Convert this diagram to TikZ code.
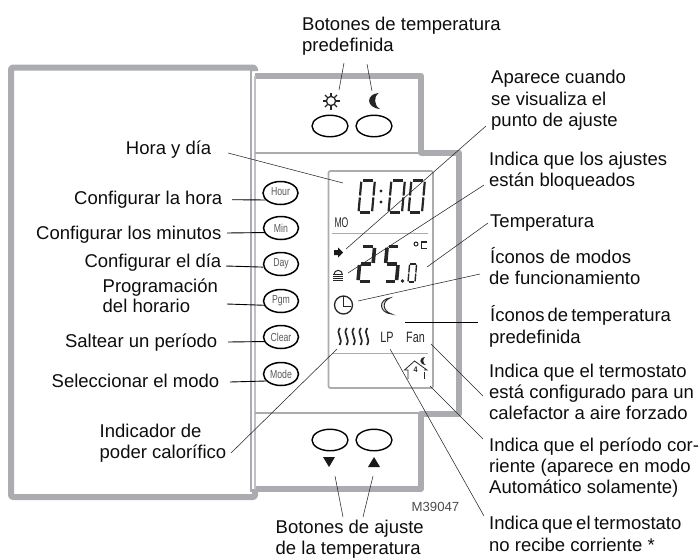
\documentclass[tikz,border=0pt]{standalone}
\usepackage{fontspec}
\setmainfont{Liberation Sans}
\usetikzlibrary{shapes.geometric,calc}
\definecolor{framegray}{RGB}{170,172,176}
\tikzset{
  lab/.style={inner sep=0pt,anchor=base west,font=\fontsize{18.5}{21}\selectfont,text=black!95},
  labr/.style={lab,anchor=base east},
  lead/.style={draw=black!85,line width=.55pt},
  leadk/.style={draw=black,line width=.9pt},
  frame/.style={draw=framegray,line width=6pt,line join=round},
  thin frame/.style={draw=framegray,line width=2pt},
  lcdframe/.style={draw=framegray,line width=1.8pt,rounded corners=2pt},
  keyb/.style={ellipse,draw=black,line width=1.5pt,fill=white,minimum width=35pt,minimum height=23pt,inner sep=0pt},
  keyn/.style={ellipse,draw=black,line width=1.4pt,fill=white,minimum width=36pt,minimum height=21.5pt,inner sep=0pt},
  keyt/.style={inner sep=0pt,text=black!65,font=\fontsize{11.6}{12}\selectfont,xscale=.75},
  lcdt/.style={inner sep=0pt,text=black!85,font=\fontsize{14}{14}\selectfont},
  lcdw/.style={inner sep=0pt,text=black!85,font=\fontsize{15}{15}\selectfont,xscale=.72},
  tri/.style={fill=black!90,draw=none}
}
% seven-segment digit: x, y(bottom), w, h, line width, segments
\newcommand\lcdseg[6]{%
  \begin{scope}[shift={(#1,#2)},xslant=.09,black!85,line width=#5]
  \foreach \s in {#6}{%
    \ifnum\s=1 \draw (.12*#3,-#4) -- (.88*#3,-#4);\fi
    \ifnum\s=2 \draw (0,-#4+.04*#4) -- (0,-.53*#4);\fi
    \ifnum\s=3 \draw (#3,-#4+.04*#4) -- (#3,-.53*#4);\fi
    \ifnum\s=4 \draw (.12*#3,-.5*#4) -- (.88*#3,-.5*#4);\fi
    \ifnum\s=5 \draw (0,-.47*#4) -- (0,-.04*#4);\fi
    \ifnum\s=6 \draw (#3,-.47*#4) -- (#3,-.04*#4);\fi
    \ifnum\s=7 \draw (.12*#3,0) -- (.88*#3,0);\fi
  }
  \end{scope}}
\newcommand\moonicon[3]{% cx, cy, half height
  \fill[black!85,shift={(#1,#2)},scale=#3]
    (.5,-1) .. controls (-1.1,-.85) and (-1.1,.85) .. (.7,1)
    .. controls (-.1,.6) and (-.1,-.6) .. (.5,-1) -- cycle;}
\newcommand\moonline[3]{% cx, cy, half height: outlined crescent
  \draw[black!85,fill=black!12,line width=.9pt,shift={(#1,#2)},scale=#3]
    (.5,-1) .. controls (-.95,-.85) and (-.95,.85) .. (.7,1)
    .. controls (-.5,.6) and (-.5,-.6) .. (.5,-1) -- cycle;}
\begin{document}
\begin{tikzpicture}[x=1pt,y=-1pt]
\useasboundingbox (0,0) rectangle (700,557);

% housing
\draw[frame,rounded corners=1.5pt] (255,71) -- (255,67.5) -- (11,67.5) -- (11,497) -- (255,497) -- (255,489);
\draw[frame] (255,76) -- (421,76) -- (421,152.5) -- (459,152.5) -- (459,413.5) -- (421,413.5) -- (421,489) -- (255,489);
\draw[thin frame] (251,70) -- (251,492);
\draw[thin frame,draw=framegray!75] (255,76) -- (255,489);
\draw[thin frame] (255,153) -- (421,153);
\draw[thin frame] (255,413) -- (421,413);

% LCD frame
\draw[lcdframe] (328.5,171) rectangle (433,388);
\draw[draw=framegray,line width=1pt] (332,233) -- (428,233);
\draw[draw=framegray,line width=1pt] (332,353) -- (428,353);

% preset keys
\node[keyn] (ksun) at (330,126) {};
\node[keyn] (kmoon) at (374,126) {};
\node[keyn] (kdown) at (330,440) {};
\node[keyn] (kup) at (374,440) {};

% left keys
\node[keyb] (hour) at (280.5,193) {};
\node[keyt] (thour) at (280.5,192) {Hour};
\node[keyb] (kmin) at (281,228) {};
\node[keyt] (tmin) at (281,228) {Min};
\node[keyb] (day) at (281,264) {};
\node[keyt] (tday) at (281,264) {Day};
\node[keyb] (pgm) at (281,301) {};
\node[keyt] (tpgm) at (281,301) {Pgm};
\node[keyb] (clear) at (281,337) {};
\node[keyt] (tclear) at (281,337) {Clear};
\node[keyb] (mode) at (281,374) {};
\node[keyt] (tmode) at (281,374) {Mode};

% icons: sun and moon
\coordinate (sun) at (331,101);
\draw[black!85,line width=1.3pt] (sun) circle (4.6);
\foreach \a in {0,45,...,315}
  \draw[black!85,line width=1.3pt] ($(sun)+(\a:5)$) -- ($(sun)+(\a:8.5)$);
\moonicon{374.5}{101}{8}
\fill[tri] (323,457) -- (335,457) -- (329,467) -- cycle;
\fill[tri] (368,467) -- (380,467) -- (374,457) -- cycle;

% LCD digits
\lcdseg{358.5}{212.5}{13.5}{32}{2.2pt}{1,2,3,5,6,7}
\fill[black!85] (381,191) circle (1.7) (381,202) circle (1.7);
\lcdseg{388.5}{212.5}{13.5}{32}{2.2pt}{1,2,3,5,6,7}
\lcdseg{408.5}{212.5}{13.5}{32}{2.2pt}{1,2,3,5,6,7}
\node[lcdt,xscale=.62] (mo) at (341.5,222.5) {MO};
\lcdseg{358}{281.5}{13.5}{35}{3.6pt}{1,3,4,5,7}
\lcdseg{384}{281.5}{12.5}{35}{3.6pt}{1,2,4,6,7}
\fill[black!85] (402.5,281) circle (1.9);
\lcdseg{408}{282}{7}{18}{1.4pt}{1,2,3,5,6,7}
\draw[black!85,line width=1pt] (416,244) circle (2);
\draw[black!85,line width=1.5pt] (427,242) -- (421.5,242) -- (421.5,248.5) -- (427,248.5);
% arrow, lock
\fill[black!90] (334,250) -- (338,250) -- (338,247.5) -- (343,252.5) -- (338,257.5) -- (338,255) -- (334,255) -- cycle;
\draw[black!85,line width=1pt] (334,274.5) arc[start angle=180,end angle=360,radius=4.2];
\draw[black!85,line width=.9pt] (333,274.5) -- (343,274.5) (333,276.5) -- (343,276.5) (333,278.5) -- (343,278.5) (333,280.5) -- (343,280.5);
% clock, moon
\draw[black!85,line width=1.3pt] (343.5,305) circle (9);
\draw[black!85,line width=1.3pt] (343.5,296) -- (343.5,306.5) -- (351,306.5);
\moonline{386}{306}{8}
% heat waves
\foreach \x in {340,347,354,361,367.5}
  \draw[black!85,line width=1.7pt] (\x,328) .. controls (\x-5,334) and (\x+4,338) .. (\x-.5,345);
% LP Fan
\node[lcdw] (lp) at (387,337) {LP};
\node[lcdw] (fan) at (415.5,337) {Fan};
% house
\draw[black!85,line width=.8pt] (408,379) -- (408,370) -- (404.5,370) -- (414.5,361) -- (427,370) -- (424,370);
\draw[black!85,line width=.8pt] (424,372) -- (424,379);
\node[inner sep=0pt,font=\bfseries\fontsize{8}{8}\selectfont,text=black!85,xscale=.9] (four) at (415.5,370) {4};
\moonicon{423}{361}{4}

% labels: top
\node[lab] (tp1) at (302,30) {Botones de temperatura};
\node[lab] (tp2) at (302,51) {predefinida};
% labels: left
\node[labr] (l1) at (211.5,154) {Hora y día};
\node[labr] (l2) at (222.5,204) {Configurar la hora};
\node[labr] (l3) at (221.5,239) {Configurar los minutos};
\node[labr] (l4) at (221.5,267) {Configurar el día};
\node[lab] (l5) at (102.5,292) {Programación};
\node[lab] (l5b) at (102.5,312) {del horario};
\node[labr] (l6) at (217.5,347) {Saltear un período};
\node[labr] (l7) at (219.5,387) {Seleccionar el modo};
\node[lab] (l8) at (99.5,437) {Indicador de};
\node[lab] (l8b) at (99.5,458) {poder calorífico};
% labels: right
\node[lab] (r1) at (491,83) {Aparece cuando};
\node[lab] (r1b) at (491,105) {se visualiza el};
\node[lab] (r1c) at (491,126) {punto de ajuste};
\node[lab] (r2) at (489,165) {Indica que los ajustes};
\node[lab] (r2b) at (489,186) {están bloqueados};
\node[lab] (r3) at (490,227) {Temperatura};
\node[lab] (r4) at (490,263) {Íconos de modos};
\node[lab] (r4b) at (489,284) {de funcionamiento};
\node[lab] (r5) at (490,321) {\spaceskip=3pt\relax Íconos de temperatura};
\node[lab] (r5b) at (489,343) {predefinida};
\node[lab] (r6) at (489,377) {Indica que el termostato};
\node[lab] (r6b) at (489,398) {está configurado para un};
\node[lab] (r6c) at (489,419) {calefactor a aire forzado};
\node[lab] (r7) at (489,451) {Indica que el período cor-};
\node[lab] (r7b) at (489,472) {riente (aparece en modo};
\node[lab] (r7c) at (489,493) {Automático solamente)};
\node[lab] (r8) at (489,529) {\spaceskip=3.4pt\relax Indica que el termostato};
\node[lab] (r8b) at (489,551) {no recibe corriente *};
% labels: bottom
\node[lab] (b1) at (275.5,533) {Botones de ajuste};
\node[lab] (b2) at (275.5,554) {de la temperatura};
\node[inner sep=0pt,anchor=base east,font=\fontsize{13.2}{14}\selectfont,text=black!70] (code) at (459.5,511) {M39047};

% leader ends
\foreach \n/\x/\y in {a1/228/153,a2/343/183,
  b1e/232/199.7,c1e/227/233,d1e/226/266,e1e/227/304,f1e/228/342,g1e/230/382,
  h1/231/453,h2/337/349,
  i1/486/126,i2/346/249,j1/484/185,j2/348/273,k1/488/223,k2/427/267,
  m1/480/274,m2/358/301,n1/478/322,n2/405/322,o1/483/396,o2/431/344,
  p1/483/439,p2/430/386,q1/484/516,q2/390/349,
  s1/344/63,s2/339/90,t1/367/64,t2/372/91,
  u1/343/517,u2/335/476,v1/363/517,v2/373/476}
  {\coordinate (\n) at (\x,\y);}

% leaders
\draw[lead] (a1) -- (a2);
\draw[leadk] (b1e) -- (hour.205);
\draw[leadk] (c1e) -- (kmin.195);
\draw[leadk] (d1e) -- (day.190);
\draw[leadk] (e1e) -- (pgm.194);
\draw[leadk] (f1e) -- (clear.195);
\draw[leadk] (g1e) -- (mode.205);
\draw[lead] (h1) -- (h2);
\draw[lead] (i1) -- (i2);
\draw[lead] (j1) -- (j2);
\draw[lead] (k1) -- (k2);
\draw[lead] (m1) -- (m2);
\draw[leadk] (n1) -- (n2);
\draw[lead] (o1) -- (o2);
\draw[lead] (p1) -- (p2);
\draw[lead] (q1) -- (q2);
\draw[lead] (s1) -- (s2);
\draw[lead] (t1) -- (t2);
\draw[lead] (u1) -- (u2);
\draw[lead] (v1) -- (v2);
\end{tikzpicture}
\end{document}
